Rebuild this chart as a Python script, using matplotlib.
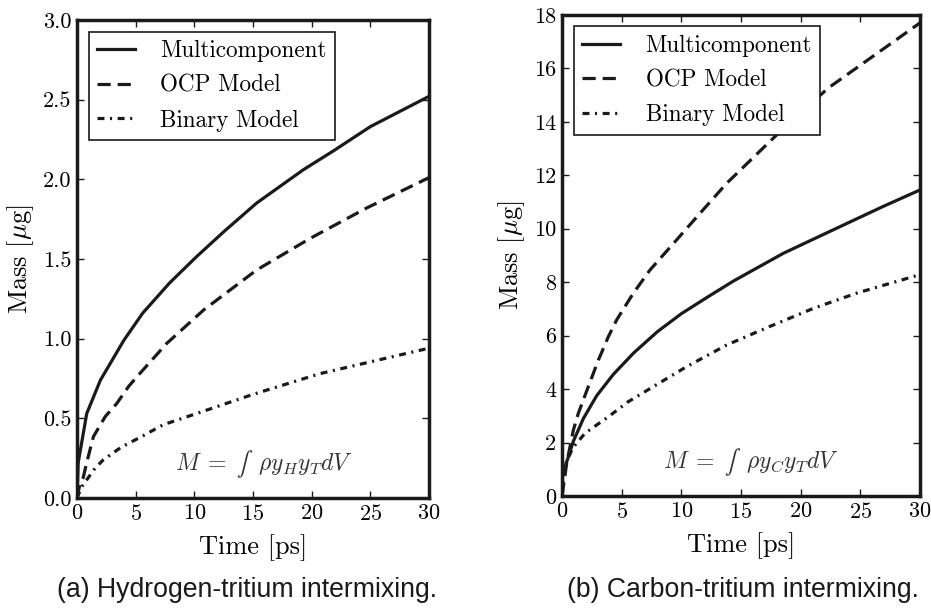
import numpy as np
import matplotlib
matplotlib.use("Agg")
from matplotlib import pyplot as plt
from matplotlib.ticker import FormatStrFormatter

# hydrogen-tritium (left panel)
t_h_multi = [0, 0.1, 0.83, 2.0, 4.0, 5.6, 7.9, 10.2, 12.5, 15.3, 19.3, 21.9, 25.0, 30.0]
m_h_multi = [0, 0.22, 0.53, 0.74, 0.99, 1.16, 1.35, 1.515, 1.67, 1.85, 2.06, 2.18, 2.33, 2.52]
t_h_ocp = [0, 0.26, 0.54, 0.82, 1.4, 2.4, 3.4, 4.4, 5.1, 7.65, 10.8, 15.3, 19.9, 24.7, 30.0]
m_h_ocp = [0, 0.09, 0.13, 0.22, 0.385, 0.51, 0.594, 0.70, 0.76, 0.97, 1.18, 1.43, 1.63, 1.82, 2.01]
t_h_bin = [0, 0.4, 1.53, 2.25, 3.8, 5.5, 7.36, 10.2, 15.0, 20.7, 30.0]
m_h_bin = [0, 0.07, 0.186, 0.24, 0.32, 0.385, 0.46, 0.53, 0.65, 0.78, 0.94]

# carbon-tritium (right panel)
t_c_multi = [0, 0.05, 0.25, 0.95, 1.79, 2.9, 4.3, 6.0, 8.0, 10.0, 12.4, 14.4, 18.55, 22.74, 26.9, 30.0]
m_c_multi = [0, 0.8, 1.08, 2.05, 2.9, 3.75, 4.55, 5.35, 6.15, 6.82, 7.5, 8.05, 9.08, 9.96, 10.83, 11.45]
t_c_ocp = [0, 0.4, 0.95, 1.37, 2.2, 3.05, 3.88, 4.58, 5.98, 7.38, 9.6, 11.57, 13.8, 17.85, 22.3, 30.0]
m_c_ocp = [0, 1.25, 2.47, 3.1, 4.09, 5.09, 5.96, 6.59, 7.59, 8.46, 9.58, 10.58, 11.7, 13.45, 15.26, 17.7]
t_c_bin = [0, 0.1, 0.3, 0.9, 1.93, 3.9, 5.56, 7.2, 10.45, 13.8, 17.4, 21.07, 24.7, 29.45, 30.0]
m_c_bin = [0, 0.5, 1.2, 1.8, 2.35, 2.97, 3.53, 3.97, 4.84, 5.65, 6.34, 7.02, 7.59, 8.21, 8.28]

labels = ["Multicomponent", "OCP Model", "Binary Model"]

plt.rcParams["font.family"] = "cmr10"
plt.rcParams["mathtext.fontset"] = "cm"
plt.rcParams["axes.formatter.use_mathtext"] = True
plt.rcParams["lines.scale_dashes"] = False

fig = plt.figure(figsize=(9.31, 6.09), dpi=100)
ax1 = fig.add_axes([0.0827, 0.1823, 0.378, 0.785])
ax2 = fig.add_axes([0.6037, 0.1856, 0.3845, 0.790])

dash = (9.5, 5)
dashdot = (5, 4, 1.5, 4)


def draw(ax, series, ylim, yticks, text, txy, fmt):
    styles = [dict(ls="-"), dict(dashes=dash), dict(dashes=dashdot)]
    for (t, m), lab, st in zip(series, labels, styles):
        ax.plot(t, m, color="#1a1a1a", lw=2.3, label=lab, **st)
    ax.set_xlim(0, 30)
    ax.set_ylim(*ylim)
    ax.set_yticks(yticks)
    ax.set_xticks(np.arange(0, 31, 5))
    ax.yaxis.set_major_formatter(FormatStrFormatter(fmt))
    for s in ax.spines.values():
        s.set_linewidth(2.5)
        s.set_color("#1a1a1a")
    ax.tick_params(direction="in", length=5, width=1, top=True, right=True,
                   labelsize=16, pad=4, color="#1a1a1a")
    ax.set_xlabel("Time [ps]", fontsize=19, labelpad=8)
    ax.set_ylabel(r"Mass [$\mu$g]", fontsize=19, labelpad=5)
    ax.text(txy[0], txy[1], text, fontsize=17, ha="center", va="center",
            color="#333333")
    leg = ax.legend(loc="upper left", fontsize=16.7, fancybox=False,
                    handlelength=1.65, handletextpad=1.1, borderpad=0.35,
                    labelspacing=0.55, framealpha=1)
    leg.get_frame().set_edgecolor("#1a1a1a")
    leg.get_frame().set_linewidth(1.2)


draw(ax1, [(t_h_multi, m_h_multi), (t_h_ocp, m_h_ocp), (t_h_bin, m_h_bin)],
     (0, 3.0), np.arange(0, 3.01, 0.5), "$M \\;=\\; ∫\\;\\;\\rho y_H y_T dV$",
     (15.9, 0.21), "%.1f")
draw(ax2, [(t_c_multi, m_c_multi), (t_c_ocp, m_c_ocp), (t_c_bin, m_c_bin)],
     (0, 18), np.arange(0, 19, 2), "$M \\;=\\; ∫\\;\\;\\rho y_C y_T dV$",
     (15.8, 1.27), "%d")

fig.text(0.265, 0.031, "(a) Hydrogen-tritium intermixing.", ha="center",
         va="center", fontsize=19.2, family="Liberation Sans", color="#1a1a1a")
fig.text(0.798, 0.031, "(b) Carbon-tritium intermixing.", ha="center",
         va="center", fontsize=19.2, family="Liberation Sans", color="#1a1a1a")

fig.savefig("out.png", dpi=100)
